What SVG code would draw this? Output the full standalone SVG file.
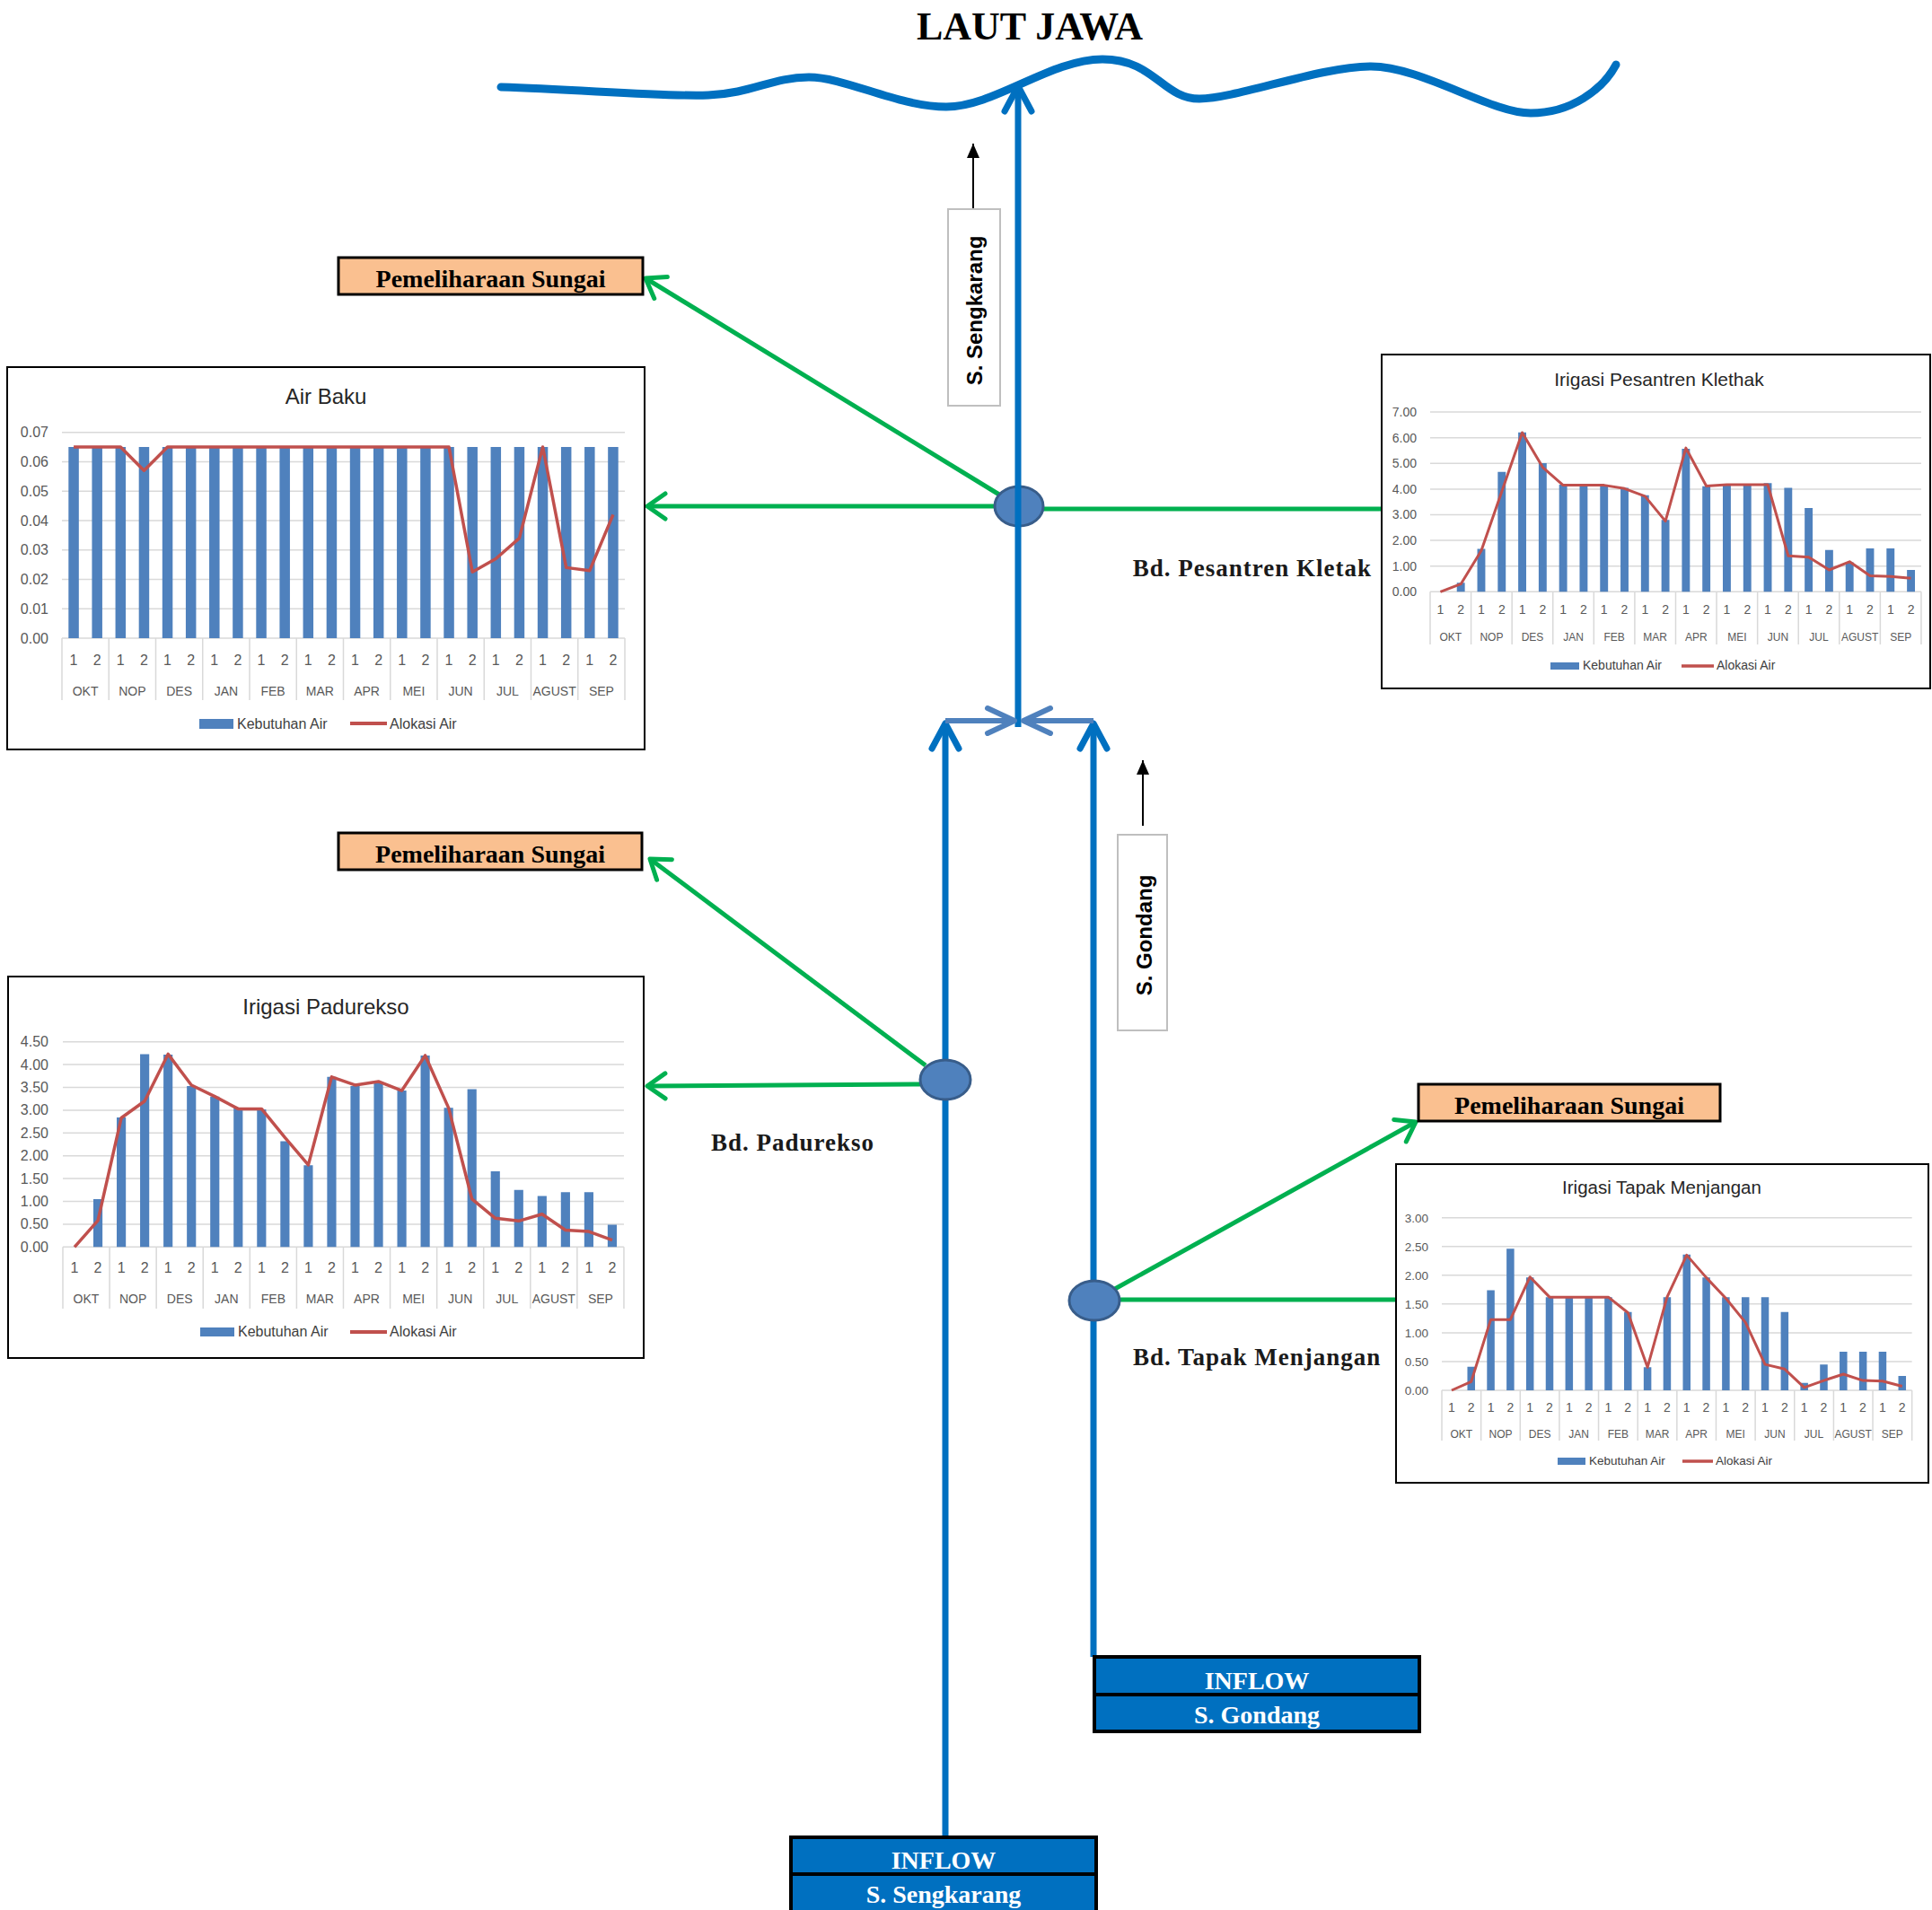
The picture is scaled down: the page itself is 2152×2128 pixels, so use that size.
<svg xmlns="http://www.w3.org/2000/svg" width="2152" height="2128" viewBox="0 0 2152 2128">
<style>
.riv{fill:none;stroke:#0070C0;stroke-width:7}
.con{fill:none;stroke:#4F81BD;stroke-width:6}
.grn{fill:none;stroke:#00B050;stroke-width:5}
.node{fill:#4F81BD;stroke:#385D8A;stroke-width:3}
.pem{fill:#FAC090;stroke:#000;stroke-width:3}
.pemt{font-family:"Liberation Serif","Times New Roman",serif;font-weight:bold;font-size:28px;text-anchor:middle;fill:#000}
.bd{font-family:"Liberation Serif","Times New Roman",serif;font-weight:bold;font-size:27px;fill:#1a1a1a;letter-spacing:1px}
.inf{fill:#0070C0;stroke:#000;stroke-width:4}
.inft{font-family:"Liberation Serif","Times New Roman",serif;font-weight:bold;font-size:28px;text-anchor:middle;fill:#fff}
.lbl{fill:#fff;stroke:#BFBFBF;stroke-width:2}
.lblt{font-family:"Liberation Sans",Arial,sans-serif;font-weight:bold;font-size:24px;text-anchor:middle;fill:#000}
.frame{fill:#fff;stroke:#000;stroke-width:2}
.grid{fill:none;stroke:#D9D9D9;stroke-width:1.5;vector-effect:non-scaling-stroke}
.bar{fill:#4F81BD}
.ln{fill:none;stroke:#C0504D;stroke-width:3.5;stroke-linejoin:round;vector-effect:non-scaling-stroke}
.ct{font-family:"Liberation Sans",Arial,sans-serif;fill:#595959}
.ttl{font-family:"Liberation Sans",Arial,sans-serif;fill:#262626;text-anchor:middle}
.lg{font-family:"Liberation Sans",Arial,sans-serif;fill:#404040}
</style>
<defs>
<marker id="mg" markerUnits="userSpaceOnUse" orient="auto" refX="0" refY="0" markerWidth="40" markerHeight="40" overflow="visible">
<path d="M-20,-14 L0,0 L-20,14" fill="none" stroke="#00B050" stroke-width="5" stroke-linecap="round" stroke-linejoin="round"/>
</marker>
<marker id="mb" markerUnits="userSpaceOnUse" orient="auto" refX="0" refY="0" markerWidth="40" markerHeight="40" overflow="visible">
<path d="M-28,-15 L0,0 L-28,15" fill="none" stroke="#0070C0" stroke-width="7" stroke-linecap="round" stroke-linejoin="round"/>
</marker>
<marker id="ms" markerUnits="userSpaceOnUse" orient="auto" refX="0" refY="0" markerWidth="40" markerHeight="40" overflow="visible">
<path d="M-30,-14 L0,0 L-30,14" fill="none" stroke="#4F81BD" stroke-width="6" stroke-linecap="round" stroke-linejoin="round"/>
</marker>
<marker id="mk" markerUnits="userSpaceOnUse" orient="auto" refX="0" refY="0" markerWidth="20" markerHeight="20" overflow="visible">
<path d="M-16,-7 L0,0 L-16,7 Z" fill="#000"/>
</marker>
</defs>

<g id="laut-jawa">
<text x="1147" y="44" font-family="'Liberation Serif','Times New Roman',serif" font-weight="bold" font-size="44" text-anchor="middle" fill="#000">LAUT JAWA</text>
<path d="M558,97 C650,100 740,108 789,106 S860,86 901,86 S1000,119 1054,119 S1170,66 1228,66 S1295,110 1336,110 S1470,74 1527,74 S1660,126 1705,126 S1785,100 1800,72" fill="none" stroke="#0070C0" stroke-width="9" stroke-linecap="round"/>
</g>

<g id="connectors">
<path class="grn" d="M1113,551 L719,310" marker-end="url(#mg)"/>
<path class="grn" d="M1108,564 L721,564" marker-end="url(#mg)"/>
<path class="grn" d="M1162,567 L1561,567" marker-end="url(#mg)"/>
<path class="grn" d="M1031,1187 L724,957" marker-end="url(#mg)"/>
<path class="grn" d="M1025,1208 L721,1210" marker-end="url(#mg)"/>
<path class="grn" d="M1240,1437 L1577,1250" marker-end="url(#mg)"/>
<path class="grn" d="M1247,1448 L1577,1448" marker-end="url(#mg)"/>
</g>

<g id="node-bd-pesantren-kletak">
<ellipse class="node" cx="1135" cy="564" rx="27" ry="22"/>
</g>

<g id="rivers">
<path class="riv" d="M1134,810 V96" marker-end="url(#mb)"/>
<path class="riv" d="M1053,2047 V806" marker-end="url(#mb)"/>
<path class="riv" d="M1218,1846 V806" marker-end="url(#mb)"/>
<path class="con" d="M1053,803 H1130" marker-end="url(#ms)"/>
<path class="con" d="M1218,803 H1140" marker-end="url(#ms)"/>
<path d="M1084,232 V160" stroke="#000" stroke-width="2" fill="none" marker-end="url(#mk)"/>
<path d="M1273,920 V847" stroke="#000" stroke-width="2" fill="none" marker-end="url(#mk)"/>
</g>

<g id="node-bd-padurekso">
<ellipse class="node" cx="1053" cy="1203" rx="28" ry="22"/>
</g>
<g id="node-bd-tapak-menjangan">
<ellipse class="node" cx="1219" cy="1449" rx="28" ry="22"/>
</g>

<g id="label-bd-pesantren"><text class="bd" x="1528" y="642" text-anchor="end">Bd. Pesantren Kletak</text></g>
<g id="label-bd-padurekso"><text class="bd" x="792" y="1282">Bd. Padurekso</text></g>
<g id="label-bd-tapak"><text class="bd" x="1262" y="1521">Bd. Tapak Menjangan</text></g>

<g id="s-sengkarang-label">
<rect class="lbl" x="1056" y="233" width="58" height="219"/>
<text class="lblt" transform="translate(1094,346) rotate(-90)">S. Sengkarang</text>
</g>
<g id="s-gondang-label">
<rect class="lbl" x="1245" y="930" width="55" height="218"/>
<text class="lblt" transform="translate(1283,1042) rotate(-90)">S. Gondang</text>
</g>

<g id="pemeliharaan-1">
<rect class="pem" x="377" y="287" width="339" height="41"/>
<text class="pemt" x="546.5" y="320">Pemeliharaan Sungai</text>
</g>
<g id="pemeliharaan-2">
<rect class="pem" x="377" y="928" width="338" height="41"/>
<text class="pemt" x="546" y="961">Pemeliharaan Sungai</text>
</g>
<g id="pemeliharaan-3">
<rect class="pem" x="1580" y="1208" width="336" height="41"/>
<text class="pemt" x="1748" y="1241">Pemeliharaan Sungai</text>
</g>

<g id="inflow-sengkarang">
<rect class="inf" x="881" y="2047" width="340" height="41"/>
<rect class="inf" x="881" y="2088" width="340" height="44"/>
<text class="inft" x="1051" y="2082">INFLOW</text>
<text class="inft" x="1051" y="2120">S. Sengkarang</text>
</g>
<g id="inflow-gondang">
<rect class="inf" x="1219" y="1846" width="362" height="42"/>
<rect class="inf" x="1219" y="1888" width="362" height="41"/>
<text class="inft" x="1400" y="1882">INFLOW</text>
<text class="inft" x="1400" y="1920">S. Gondang</text>
</g>

<!-- Chart: Air Baku -->
<g id="chart-air-baku">
<rect class="frame" x="8" y="409" width="710" height="426"/>
<text class="ttl" x="363" y="450" font-size="24">Air Baku</text>
<g transform="translate(69,711) scale(26.125,-3276)">
<path class="grid" d="M0,0H24M0,.01H24M0,.02H24M0,.03H24M0,.04H24M0,.05H24M0,.06H24M0,.07H24"/>
<path class="grid" d="M0,0V-.0211M2,0V-.0211M4,0V-.0211M6,0V-.0211M8,0V-.0211M10,0V-.0211M12,0V-.0211M14,0V-.0211M16,0V-.0211M18,0V-.0211M20,0V-.0211M22,0V-.0211M24,0V-.0211"/>
<path class="bar" d="M.28,0h.44v.065h-.44zM1.28,0h.44v.065h-.44zM2.28,0h.44v.065h-.44zM3.28,0h.44v.065h-.44zM4.28,0h.44v.065h-.44zM5.28,0h.44v.065h-.44zM6.28,0h.44v.065h-.44zM7.28,0h.44v.065h-.44zM8.28,0h.44v.065h-.44zM9.28,0h.44v.065h-.44zM10.28,0h.44v.065h-.44zM11.28,0h.44v.065h-.44zM12.28,0h.44v.065h-.44zM13.28,0h.44v.065h-.44zM14.28,0h.44v.065h-.44zM15.28,0h.44v.065h-.44zM16.28,0h.44v.065h-.44zM17.28,0h.44v.065h-.44zM18.28,0h.44v.065h-.44zM19.28,0h.44v.065h-.44zM20.28,0h.44v.065h-.44zM21.28,0h.44v.065h-.44zM22.28,0h.44v.065h-.44zM23.28,0h.44v.065h-.44z"/>
<polyline class="ln" points="0.5,.065 1.5,.065 2.5,.065 3.5,.057 4.5,.065 5.5,.065 6.5,.065 7.5,.065 8.5,.065 9.5,.065 10.5,.065 11.5,.065 12.5,.065 13.5,.065 14.5,.065 15.5,.065 16.5,.065 17.5,.0225 18.5,.027 19.5,.034 20.5,.065 21.5,.024 22.5,.023 23.5,.042"/>
</g>
<g class="ct" font-size="16" text-anchor="end">
<text x="54" y="487">0.07</text><text x="54" y="520">0.06</text><text x="54" y="553">0.05</text><text x="54" y="586">0.04</text><text x="54" y="618">0.03</text><text x="54" y="651">0.02</text><text x="54" y="684">0.01</text><text x="54" y="717">0.00</text>
</g>
<g class="ct" font-size="16" text-anchor="middle">
<text x="82" y="741">1</text><text x="108.2" y="741">2</text><text x="134.3" y="741">1</text><text x="160.5" y="741">2</text><text x="186.5" y="741">1</text><text x="212.7" y="741">2</text><text x="238.8" y="741">1</text><text x="265" y="741">2</text><text x="291" y="741">1</text><text x="317.2" y="741">2</text><text x="343.3" y="741">1</text><text x="369.5" y="741">2</text><text x="395.5" y="741">1</text><text x="421.7" y="741">2</text><text x="447.8" y="741">1</text><text x="474" y="741">2</text><text x="500" y="741">1</text><text x="526.2" y="741">2</text><text x="552.3" y="741">1</text><text x="578.5" y="741">2</text><text x="604.5" y="741">1</text><text x="630.7" y="741">2</text><text x="656.8" y="741">1</text><text x="683" y="741">2</text>
</g>
<g class="ct" font-size="14" text-anchor="middle">
<text x="95.1" y="775">OKT</text><text x="147.4" y="775">NOP</text><text x="199.6" y="775">DES</text><text x="251.9" y="775">JAN</text><text x="304.1" y="775">FEB</text><text x="356.4" y="775">MAR</text><text x="408.6" y="775">APR</text><text x="460.9" y="775">MEI</text><text x="513.1" y="775">JUN</text><text x="565.4" y="775">JUL</text><text x="617.6" y="775">AGUST</text><text x="669.9" y="775">SEP</text>
</g>
<rect class="bar" x="222" y="801" width="38" height="11"/>
<text class="lg" x="264" y="812" font-size="16">Kebutuhan Air</text>
<line x1="390" y1="806" x2="431" y2="806" stroke="#C0504D" stroke-width="4"/>
<text class="lg" x="434" y="812" font-size="16">Alokasi Air</text>
</g>

<!-- Chart: Irigasi Pesantren Klethak -->
<g id="chart-pesantren-klethak">
<rect class="frame" x="1539" y="395" width="611" height="372"/>
<text class="ttl" x="1848" y="430" font-size="21">Irigasi Pesantren Klethak</text>
<g transform="translate(1593,659.3) scale(22.79,-28.6)">
<path class="grid" d="M0,0H24M0,1H24M0,2H24M0,3H24M0,4H24M0,5H24M0,6H24M0,7H24"/>
<path class="grid" d="M0,0V-2.05M2,0V-2.05M4,0V-2.05M6,0V-2.05M8,0V-2.05M10,0V-2.05M12,0V-2.05M14,0V-2.05M16,0V-2.05M18,0V-2.05M20,0V-2.05M22,0V-2.05M24,0V-2.05"/>
<path class="bar" d="M1.305,0h.39v.35h-.39zM2.305,0h.39v1.67h-.39zM3.305,0h.39v4.67h-.39zM4.305,0h.39v6.21h-.39zM5.305,0h.39v5.01h-.39zM6.305,0h.39v4.17h-.39zM7.305,0h.39v4.17h-.39zM8.305,0h.39v4.17h-.39zM9.305,0h.39v4.05h-.39zM10.305,0h.39v3.76h-.39zM11.305,0h.39v2.8h-.39zM12.305,0h.39v5.57h-.39zM13.305,0h.39v4.11h-.39zM14.305,0h.39v4.19h-.39zM15.305,0h.39v4.19h-.39zM16.305,0h.39v4.23h-.39zM17.305,0h.39v4.05h-.39zM18.305,0h.39v3.26h-.39zM19.305,0h.39v1.63h-.39zM20.305,0h.39v1.15h-.39zM21.305,0h.39v1.69h-.39zM22.305,0h.39v1.69h-.39zM23.305,0h.39v.85h-.39z"/>
<polyline class="ln" style="stroke-width:3" points="0.5,0 1.5,.3 2.5,1.6 3.5,3.9 4.5,6.2 5.5,4.85 6.5,4.15 7.5,4.15 8.5,4.15 9.5,4.02 10.5,3.72 11.5,2.75 12.5,5.6 13.5,4.12 14.5,4.17 15.5,4.17 16.5,4.17 17.5,1.4 18.5,1.35 19.5,.85 20.5,1.17 21.5,.62 22.5,.6 23.5,.53"/>
</g>
<g class="ct" font-size="14" text-anchor="end">
<text x="1578" y="464">7.00</text><text x="1578" y="493">6.00</text><text x="1578" y="521">5.00</text><text x="1578" y="550">4.00</text><text x="1578" y="578">3.00</text><text x="1578" y="607">2.00</text><text x="1578" y="636">1.00</text><text x="1578" y="664">0.00</text>
</g>
<g class="ct" font-size="14" text-anchor="middle">
<text x="1604.4" y="684">1</text><text x="1627.2" y="684">2</text><text x="1650" y="684">1</text><text x="1672.8" y="684">2</text><text x="1695.6" y="684">1</text><text x="1718.4" y="684">2</text><text x="1741.1" y="684">1</text><text x="1763.9" y="684">2</text><text x="1786.7" y="684">1</text><text x="1809.5" y="684">2</text><text x="1832.3" y="684">1</text><text x="1855.1" y="684">2</text><text x="1877.9" y="684">1</text><text x="1900.7" y="684">2</text><text x="1923.5" y="684">1</text><text x="1946.3" y="684">2</text><text x="1969" y="684">1</text><text x="1991.8" y="684">2</text><text x="2014.6" y="684">1</text><text x="2037.4" y="684">2</text><text x="2060.2" y="684">1</text><text x="2083" y="684">2</text><text x="2105.8" y="684">1</text><text x="2128.6" y="684">2</text>
</g>
<g class="ct" font-size="12" text-anchor="middle">
<text x="1615.8" y="714">OKT</text><text x="1661.4" y="714">NOP</text><text x="1707" y="714">DES</text><text x="1752.5" y="714">JAN</text><text x="1798.1" y="714">FEB</text><text x="1843.7" y="714">MAR</text><text x="1889.3" y="714">APR</text><text x="1934.9" y="714">MEI</text><text x="1980.4" y="714">JUN</text><text x="2026" y="714">JUL</text><text x="2071.6" y="714">AGUST</text><text x="2117.2" y="714">SEP</text>
</g>
<rect class="bar" x="1727" y="738" width="32" height="8"/>
<text class="lg" x="1763" y="746" font-size="14">Kebutuhan Air</text>
<line x1="1873" y1="742" x2="1909" y2="742" stroke="#C0504D" stroke-width="3.5"/>
<text class="lg" x="1912" y="746" font-size="14">Alokasi Air</text>
</g>

<!-- Chart: Irigasi Padurekso -->
<g id="chart-padurekso">
<rect class="frame" x="9" y="1088" width="708" height="425"/>
<text class="ttl" x="363" y="1130" font-size="24">Irigasi Padurekso</text>
<g transform="translate(70,1389.3) scale(26.04,-50.8)">
<path class="grid" d="M0,0H24M0,.5H24M0,1H24M0,1.5H24M0,2H24M0,2.5H24M0,3H24M0,3.5H24M0,4H24M0,4.5H24"/>
<path class="grid" d="M0,0V-1.35M2,0V-1.35M4,0V-1.35M6,0V-1.35M8,0V-1.35M10,0V-1.35M12,0V-1.35M14,0V-1.35M16,0V-1.35M18,0V-1.35M20,0V-1.35M22,0V-1.35M24,0V-1.35"/>
<path class="bar" d="M1.305,0h.39v1.05h-.39zM2.305,0h.39v2.84h-.39zM3.305,0h.39v4.23h-.39zM4.305,0h.39v4.22h-.39zM5.305,0h.39v3.53h-.39zM6.305,0h.39v3.3h-.39zM7.305,0h.39v3.04h-.39zM8.305,0h.39v3.02h-.39zM9.305,0h.39v2.32h-.39zM10.305,0h.39v1.79h-.39zM11.305,0h.39v3.73h-.39zM12.305,0h.39v3.53h-.39zM13.305,0h.39v3.63h-.39zM14.305,0h.39v3.43h-.39zM15.305,0h.39v4.2h-.39zM16.305,0h.39v3.05h-.39zM17.305,0h.39v3.46h-.39zM18.305,0h.39v1.66h-.39zM19.305,0h.39v1.25h-.39zM20.305,0h.39v1.12h-.39zM21.305,0h.39v1.2h-.39zM22.305,0h.39v1.2h-.39zM23.305,0h.39v.49h-.39z"/>
<polyline class="ln" points="0.5,0 1.5,.58 2.5,2.83 3.5,3.2 4.5,4.23 5.5,3.55 6.5,3.3 7.5,3.03 8.5,3.03 9.5,2.4 10.5,1.8 11.5,3.73 12.5,3.55 13.5,3.63 14.5,3.43 15.5,4.2 16.5,3.05 17.5,1.05 18.5,.63 19.5,.57 20.5,.72 21.5,.37 22.5,.34 23.5,.15"/>
</g>
<g class="ct" font-size="16" text-anchor="end">
<text x="54" y="1166">4.50</text><text x="54" y="1192">4.00</text><text x="54" y="1217">3.50</text><text x="54" y="1242">3.00</text><text x="54" y="1268">2.50</text><text x="54" y="1293">2.00</text><text x="54" y="1319">1.50</text><text x="54" y="1344">1.00</text><text x="54" y="1369">0.50</text><text x="54" y="1395">0.00</text>
</g>
<g class="ct" font-size="16" text-anchor="middle">
<text x="83" y="1418">1</text><text x="109" y="1418">2</text><text x="135.1" y="1418">1</text><text x="161.1" y="1418">2</text><text x="187.2" y="1418">1</text><text x="213.2" y="1418">2</text><text x="239.3" y="1418">1</text><text x="265.3" y="1418">2</text><text x="291.4" y="1418">1</text><text x="317.4" y="1418">2</text><text x="343.4" y="1418">1</text><text x="369.4" y="1418">2</text><text x="395.5" y="1418">1</text><text x="421.5" y="1418">2</text><text x="447.6" y="1418">1</text><text x="473.6" y="1418">2</text><text x="499.7" y="1418">1</text><text x="525.7" y="1418">2</text><text x="551.8" y="1418">1</text><text x="577.8" y="1418">2</text><text x="603.8" y="1418">1</text><text x="629.8" y="1418">2</text><text x="655.9" y="1418">1</text><text x="681.9" y="1418">2</text>
</g>
<g class="ct" font-size="14" text-anchor="middle">
<text x="96" y="1452">OKT</text><text x="148.1" y="1452">NOP</text><text x="200.2" y="1452">DES</text><text x="252.3" y="1452">JAN</text><text x="304.4" y="1452">FEB</text><text x="356.4" y="1452">MAR</text><text x="408.5" y="1452">APR</text><text x="460.6" y="1452">MEI</text><text x="512.7" y="1452">JUN</text><text x="564.8" y="1452">JUL</text><text x="616.8" y="1452">AGUST</text><text x="668.9" y="1452">SEP</text>
</g>
<rect class="bar" x="223" y="1479" width="38" height="10"/>
<text class="lg" x="265" y="1489" font-size="16">Kebutuhan Air</text>
<line x1="390" y1="1484" x2="431" y2="1484" stroke="#C0504D" stroke-width="4"/>
<text class="lg" x="434" y="1489" font-size="16">Alokasi Air</text>
</g>

<!-- Chart: Irigasi Tapak Menjangan -->
<g id="chart-tapak-menjangan">
<rect class="frame" x="1555" y="1297" width="593" height="355"/>
<text class="ttl" x="1851" y="1330" font-size="20.5">Irigasi Tapak Menjangan</text>
<g transform="translate(1606,1549) scale(21.82,-64.1)">
<path class="grid" d="M0,0H24M0,.5H24M0,1H24M0,1.5H24M0,2H24M0,2.5H24M0,3H24"/>
<path class="grid" d="M0,0V-.874M2,0V-.874M4,0V-.874M6,0V-.874M8,0V-.874M10,0V-.874M12,0V-.874M14,0V-.874M16,0V-.874M18,0V-.874M20,0V-.874M22,0V-.874M24,0V-.874"/>
<path class="bar" d="M1.305,0h.39v.41h-.39zM2.305,0h.39v1.74h-.39zM3.305,0h.39v2.46h-.39zM4.305,0h.39v1.96h-.39zM5.305,0h.39v1.62h-.39zM6.305,0h.39v1.62h-.39zM7.305,0h.39v1.62h-.39zM8.305,0h.39v1.62h-.39zM9.305,0h.39v1.36h-.39zM10.305,0h.39v.4h-.39zM11.305,0h.39v1.62h-.39zM12.305,0h.39v2.36h-.39zM13.305,0h.39v1.96h-.39zM14.305,0h.39v1.62h-.39zM15.305,0h.39v1.62h-.39zM16.305,0h.39v1.62h-.39zM17.305,0h.39v1.36h-.39zM18.305,0h.39v.13h-.39zM19.305,0h.39v.45h-.39zM20.305,0h.39v.67h-.39zM21.305,0h.39v.67h-.39zM22.305,0h.39v.67h-.39zM23.305,0h.39v.25h-.39z"/>
<polyline class="ln" style="stroke-width:3" points="0.5,0 1.5,.15 2.5,1.23 3.5,1.23 4.5,1.97 5.5,1.62 6.5,1.62 7.5,1.62 8.5,1.62 9.5,1.35 10.5,.4 11.5,1.62 12.5,2.35 13.5,1.96 14.5,1.6 15.5,1.18 16.5,.45 17.5,.37 18.5,.05 19.5,.17 20.5,.28 21.5,.17 22.5,.16 23.5,.07"/>
</g>
<g class="ct" font-size="13.5" text-anchor="end">
<text x="1591" y="1361.5">3.00</text><text x="1591" y="1393.6">2.50</text><text x="1591" y="1425.6">2.00</text><text x="1591" y="1457.6">1.50</text><text x="1591" y="1489.7">1.00</text><text x="1591" y="1521.8">0.50</text><text x="1591" y="1553.8">0.00</text>
</g>
<g class="ct" font-size="14" text-anchor="middle">
<text x="1616.9" y="1573">1</text><text x="1638.7" y="1573">2</text><text x="1660.6" y="1573">1</text><text x="1682.4" y="1573">2</text><text x="1704.2" y="1573">1</text><text x="1726" y="1573">2</text><text x="1747.8" y="1573">1</text><text x="1769.6" y="1573">2</text><text x="1791.4" y="1573">1</text><text x="1813.2" y="1573">2</text><text x="1835.1" y="1573">1</text><text x="1856.9" y="1573">2</text><text x="1878.7" y="1573">1</text><text x="1900.5" y="1573">2</text><text x="1922.3" y="1573">1</text><text x="1944.1" y="1573">2</text><text x="1966" y="1573">1</text><text x="1987.8" y="1573">2</text><text x="2009.6" y="1573">1</text><text x="2031.4" y="1573">2</text><text x="2053.2" y="1573">1</text><text x="2075" y="1573">2</text><text x="2096.9" y="1573">1</text><text x="2118.7" y="1573">2</text>
</g>
<g class="ct" font-size="12" text-anchor="middle">
<text x="1627.8" y="1602">OKT</text><text x="1671.5" y="1602">NOP</text><text x="1715.1" y="1602">DES</text><text x="1758.7" y="1602">JAN</text><text x="1802.3" y="1602">FEB</text><text x="1846" y="1602">MAR</text><text x="1889.6" y="1602">APR</text><text x="1933.2" y="1602">MEI</text><text x="1976.9" y="1602">JUN</text><text x="2020.5" y="1602">JUL</text><text x="2064.1" y="1602">AGUST</text><text x="2107.8" y="1602">SEP</text>
</g>
<rect class="bar" x="1735" y="1624" width="31" height="8"/>
<text class="lg" x="1770" y="1632" font-size="13.5">Kebutuhan Air</text>
<line x1="1874" y1="1628" x2="1908" y2="1628" stroke="#C0504D" stroke-width="3.5"/>
<text class="lg" x="1911" y="1632" font-size="13.5">Alokasi Air</text>
</g>
</svg>
